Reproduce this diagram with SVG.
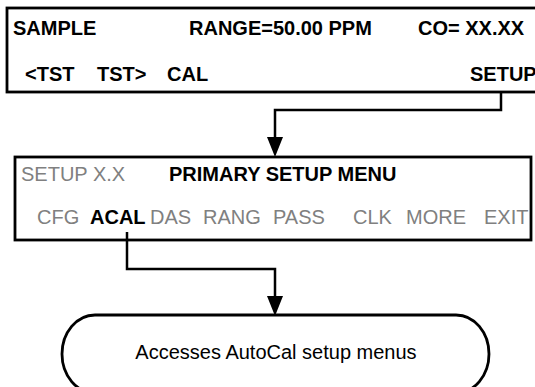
<svg xmlns="http://www.w3.org/2000/svg" width="535" height="387" viewBox="0 0 535 387">
<style>
.box{fill:#fff;stroke:#000;stroke-width:2.8}
.t{font-family:"Liberation Sans",Arial,sans-serif;font-size:20px}
.b{font-weight:bold;fill:#000}
.g{fill:#808080}
.k{fill:#000}
.conn{fill:none;stroke:#000;stroke-width:2.5}
</style>
<defs>
<marker id="arr" markerUnits="userSpaceOnUse" markerWidth="20" markerHeight="16" refX="0" refY="8" orient="auto" viewBox="0 0 20 16">
<path d="M0,0 L20,8 L0,16 z" fill="#000"/>
</marker>
</defs>
<g id="node-main">
<rect class="box" x="7" y="8" width="540" height="84"/>
<text class="t b" x="13" y="35">SAMPLE</text>
<text class="t b" x="189" y="35">RANGE=50.00 PPM</text>
<text class="t b" x="418" y="35">CO= XX.XX</text>
<text class="t b" x="25" y="81">&lt;TST</text>
<text class="t b" x="97" y="81">TST&gt;</text>
<text class="t b" x="167" y="81">CAL</text>
<text class="t b" x="470" y="81">SETUP</text>
</g>
<g id="node-setup">
<rect class="box" x="15" y="157" width="516" height="83"/>
<text class="t g" x="21" y="181">SETUP X.X</text>
<text class="t b" x="169" y="181">PRIMARY SETUP MENU</text>
<text class="t g" x="37" y="224">CFG</text>
<text class="t b" x="90" y="224">ACAL</text>
<text class="t g" x="150" y="224">DAS</text>
<text class="t g" x="203" y="224">RANG</text>
<text class="t g" x="273" y="224">PASS</text>
<text class="t g" x="353" y="224">CLK</text>
<text class="t g" x="406" y="224">MORE</text>
<text class="t g" x="484" y="224">EXIT</text>
</g>
<g id="node-result">
<rect class="box" x="62" y="315" width="427" height="78" rx="33" ry="39"/>
<text class="t k" x="276" y="359" text-anchor="middle">Accesses AutoCal setup menus</text>
</g>
<g id="connectors">
<path class="conn" d="M501,92 V110 H275 V137" marker-end="url(#arr)"/>
<path class="conn" d="M127,232 V269 H275 V296" marker-end="url(#arr)"/>
</g>
</svg>
